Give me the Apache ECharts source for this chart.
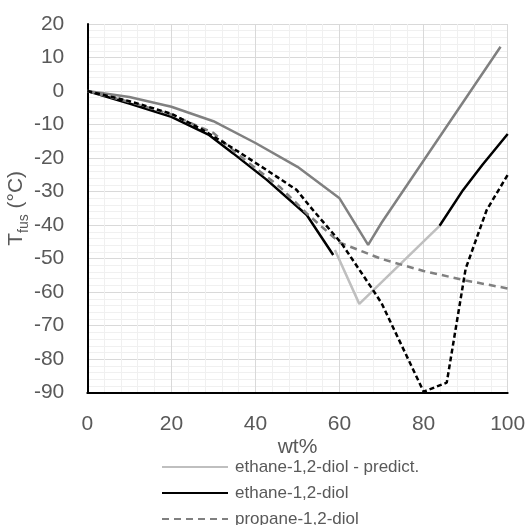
<!DOCTYPE html>
<html>
<head>
<meta charset="utf-8">
<script src="https://cdn.jsdelivr.net/npm/echarts@6/dist/echarts.min.js"></script>
<style>html,body{margin:0;padding:0;background:#fff}#c{width:528px;height:525px}</style>
</head>
<body>
<div id="c"></div>
<script>
// Data (wt%, T_fus °C)
const ethanePredict = [[58.9,-47.4],[64.7,-63.5],[83.8,-40.2]];
const ethaneSeg1 = [[0,0],[10,-3.7],[20,-7.7],[28.8,-13],[34.7,-18.6],[42.7,-26.5],[52.2,-37],[58.5,-48.9]];
const ethaneSeg2 = [[83.8,-40.2],[89.4,-29.5],[94,-22],[100,-12.8]];
const propane = [[0,0],[10,-3.2],[20,-7],[30,-12.5],[35.5,-18.6],[45.8,-28.6],[52.2,-36.5],[60,-45.2],[70,-50.1],[80,-53.7],[90,-56.5],[100,-58.9]];
const darkGray = [[0,0],[10,-1.8],[20,-4.7],[30,-9],[40,-15.5],[50,-22.6],[60,-32],[66.8,-45.9],[70,-39.3],[98.3,13.2]];
const blackDashed = [[0,0],[10,-3],[20,-6.8],[26.8,-11.1],[34.7,-17.1],[42.7,-23.6],[49.8,-29.5],[53,-34.5],[60.5,-45.5],[67.5,-58.5],[70,-63.3],[80,-89.7],[85.5,-87],[90,-53],[95,-35.5],[100,-25]];
const legendNames = ['ethane-1,2-diol - predict.','ethane-1,2-diol','propane-1,2-diol'];

const FONT = 'Liberation Sans';
const chart = echarts.init(document.getElementById('c'));
chart.setOption({
  animation: false,
  backgroundColor: '#fff',
  grid: {left: 87.3, top: 24, right: 20.3, bottom: 132.3, containLabel: false, outerBoundsMode: 'none'},
  legend: {
    data: legendNames,
    orient: 'vertical',
    left: 156, top: 453, height: 200,
    itemWidth: 66, itemHeight: 14, itemGap: 8,
    itemStyle: {opacity: 0},
    textStyle: {fontFamily: FONT, fontSize: 17, color: '#595959', lineHeight: 18, padding: [0,0,0,2]},
    selectedMode: false
  },
  xAxis: {
    type: 'value', min: 0, max: 100, interval: 20,
    name: 'wt%', nameLocation: 'middle', nameGap: 44, nameMoveOverlap: false,
    nameTextStyle: {fontFamily: FONT, fontSize: 21, color: '#595959'},
    axisLine: {show: true, onZero: false, lineStyle: {color: '#000', width: 2}},
    axisTick: {show: false},
    axisLabel: {fontFamily: FONT, fontSize: 21, color: '#595959', margin: 21},
    splitLine: {show: true, lineStyle: {color: '#d9d9d9', width: 1}},
    minorTick: {show: false, splitNumber: 5},
    minorSplitLine: {show: true, lineStyle: {color: '#f0f0f0', width: 1}}
  },
  yAxis: {
    type: 'value', min: -90, max: 20, interval: 10,
    name: '{a|T}{b|fus}{a| (°C)}', nameLocation: 'middle', nameGap: 61, nameMoveOverlap: false,
    nameTextStyle: {
      rich: {
        a: {fontFamily: FONT, fontSize: 21, color: '#595959', lineHeight: 26, verticalAlign: 'bottom'},
        b: {fontFamily: FONT, fontSize: 14, color: '#595959', lineHeight: 26, verticalAlign: 'bottom', padding: [0,0,-5,0]}
      }
    },
    axisLine: {show: true, onZero: false, lineStyle: {color: '#000', width: 2}},
    axisTick: {show: false},
    axisLabel: {fontFamily: FONT, fontSize: 21, color: '#595959', margin: 23},
    splitLine: {show: true, lineStyle: {color: '#d9d9d9', width: 1}},
    minorTick: {show: false, splitNumber: 5},
    minorSplitLine: {show: true, lineStyle: {color: '#f0f0f0', width: 1}}
  },
  series: [
    {name: legendNames[0], type: 'line', data: ethanePredict, symbol: 'none', z: 2,
     lineStyle: {color: '#bfbfbf', width: 2.5}, itemStyle: {color: '#bfbfbf'}},
    {name: legendNames[1], type: 'line', data: ethaneSeg1, symbol: 'none', z: 3,
     lineStyle: {color: '#000', width: 2.5}, itemStyle: {color: '#000'}},
    {name: legendNames[1], type: 'line', data: ethaneSeg2, symbol: 'none', z: 3,
     lineStyle: {color: '#000', width: 2.5}, itemStyle: {color: '#000'}},
    {name: legendNames[2], type: 'line', data: propane, symbol: 'none', z: 4,
     lineStyle: {color: '#808080', width: 2.5, type: [7,5]}, itemStyle: {color: '#808080'}},
    {name: 'predicted (dark)', type: 'line', data: darkGray, symbol: 'none', z: 5,
     lineStyle: {color: '#808080', width: 2.5}, itemStyle: {color: '#808080'}},
    {name: 'predicted (dashed)', type: 'line', data: blackDashed, symbol: 'none', z: 6,
     lineStyle: {color: '#000', width: 2.5, type: [5,3]}, itemStyle: {color: '#000'}}
  ]
});
</script>
</body>
</html>
